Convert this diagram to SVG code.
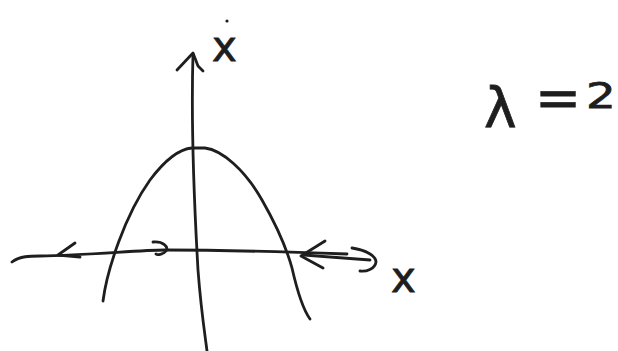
<svg xmlns="http://www.w3.org/2000/svg" width="618" height="351" viewBox="0 0 618 351">
<style>
.s{fill:none;stroke:#1e1e1e;stroke-width:2.8;stroke-linecap:round;stroke-linejoin:round}
.t{font-family:"DejaVu Sans","Liberation Sans",sans-serif;fill:#1e1e1e;stroke:#1e1e1e;stroke-width:0.8}
</style>
<rect width="618" height="351" fill="#fff"/>
<!-- vertical axis -->
<path class="s" d="M193,54 C191,120 194,200 198,270 C201,310 205,335 207,351"/>
<path class="s" d="M177,70 L193,53 L198,66 L203,71"/>
<!-- horizontal axis -->
<path class="s" d="M12,262 C20,256 30,256 40,256 C90,255 140,250 165,250 C230,250 290,252 347,254"/>
<!-- arrows on x axis -->
<path class="s" d="M75,243 L58,255 L80,257"/>
<path class="s" d="M153,242 C163,241 169,247 166,251 C163,255 157,255 156,254"/>
<path class="s" d="M325,241 L301,256 L323,268"/>
<path class="s" d="M352,248 C366,250 376,256 376,262 C375,269 366,272 360,271"/>
<path class="s" d="M304,255 L370,260"/>
<!-- parabola -->
<path class="s" d="M103,301 C107,270 125,215 150,180 C165,160 180,149 192,148 L205,148 C222,150 245,170 262,200 C278,228 287,250 292,268 C297,290 302,308 310,319"/>
<!-- labels -->
<text class="t" x="212" y="61" font-size="42">x</text>
<circle cx="227" cy="21" r="1.6" fill="#1e1e1e"/>
<text class="t" x="391" y="292" font-size="42">x</text>
<text class="t" x="484" y="127" font-size="55">λ</text>
<text class="t" x="535" y="117" font-size="55">=</text>
<text class="t" transform="translate(586,108) scale(1.3,1)" font-size="36">2</text>
</svg>
